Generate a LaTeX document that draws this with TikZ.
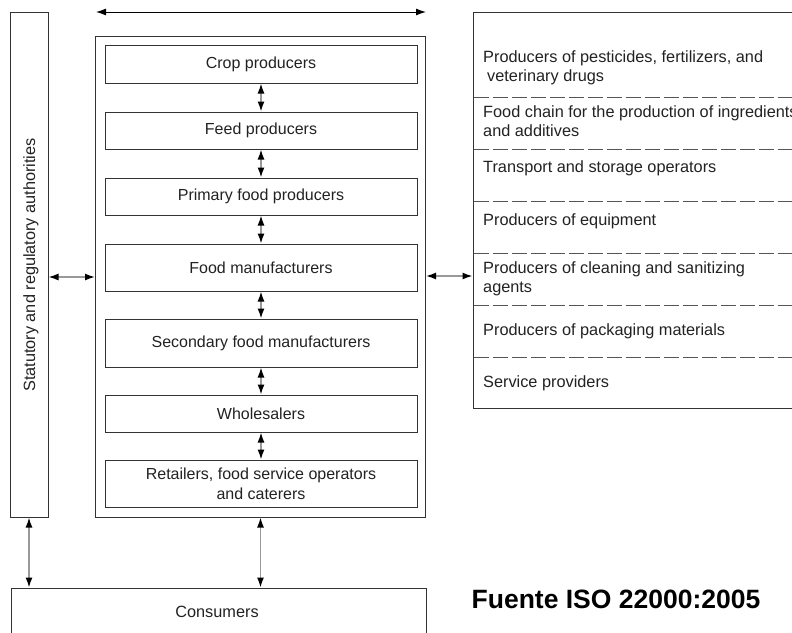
\documentclass[tikz,border=0pt]{standalone}
\usepackage{fontspec}
\setmainfont{Liberation Sans}
\usetikzlibrary{arrows.meta}
\definecolor{boxc}{HTML}{333333}
\definecolor{arrc}{HTML}{999999}
\definecolor{txt}{HTML}{222222}
\definecolor{dashc}{HTML}{555555}
\begin{document}
\begin{tikzpicture}[x=1pt,y=-1pt,
  box/.style={draw=boxc, line width=1pt, inner sep=0pt, align=center,
              font=\fontsize{16}{20}\selectfont, text=txt},
  lbl/.style={font=\fontsize{16.3}{19}\selectfont, text=txt, inner sep=0pt},
  dline/.style={draw=dashc, line width=1pt, dash pattern=on 15pt off 4pt},
  arr/.style={draw=arrc, line width=1.4pt,
              {Latex[length=10pt,width=7pt,fill=black,color=black]}-{Latex[length=10pt,width=7pt,fill=black,color=black]}}
]
\useasboundingbox (0,0) rectangle (792,632);
\clip (0,0) rectangle (792,632);

% outer chain box
\node[box, minimum width=330pt, minimum height=481pt] (chain) at (260.5,276.5) {};
% inner boxes
\node[box, minimum width=312pt, minimum height=38pt] (crop) at (261,64) {Crop producers};
\node[box, minimum width=312pt, minimum height=37pt] (feed) at (261,130.5) {Feed producers};
\node[box, minimum width=312pt, minimum height=37pt] (prim) at (261,196.5) {Primary food producers};
\node[box, minimum width=312pt, minimum height=47pt] (manu) at (261,267.5) {Food manufacturers};
\node[box, minimum width=312pt, minimum height=48pt] (sec) at (261,343) {Secondary food manufacturers};
\node[box, minimum width=312pt, minimum height=37pt] (whol) at (261,413.5) {Wholesalers};
\node[box, minimum width=312pt, minimum height=47pt] (ret) at (261,483.5) {Retailers, food service operators\\and caterers};

% left authorities box
\node[box, minimum width=38pt, minimum height=505pt] (auth) at (29,264.5) {};
\node[lbl, rotate=90] (authtxt) at (31,265) {Statutory and regulatory authorities};

% right box
\node[box, minimum width=330pt, minimum height=396pt] (rb) at (638,210) {};
\coordinate (d1a) at (473.5,97);  \coordinate (d1b) at (800,97);
\coordinate (d2a) at (473.5,149); \coordinate (d2b) at (800,149);
\coordinate (d3a) at (473.5,201); \coordinate (d3b) at (800,201);
\coordinate (d4a) at (473.5,253); \coordinate (d4b) at (800,253);
\coordinate (d5a) at (473.5,305); \coordinate (d5b) at (800,305);
\coordinate (d6a) at (473.5,357); \coordinate (d6b) at (800,357);
\draw[dline] (d1a) -- (d1b);
\draw[dline] (d2a) -- (d2b);
\draw[dline] (d3a) -- (d3b);
\draw[dline] (d4a) -- (d4b);
\draw[dline] (d5a) -- (d5b);
\draw[dline] (d6a) -- (d6b);

\node[lbl, anchor=base west] (r1a) at (483,62) {Producers of pesticides, fertilizers, and};
\node[lbl, anchor=base west] (r1b) at (487,81) {veterinary drugs};
\node[lbl, anchor=base west] (r2a) at (483,117) {Food chain for the production of ingredients};
\node[lbl, anchor=base west] (r2b) at (483,136) {and additives};
\node[lbl, anchor=base west] (r3) at (483,172) {Transport and storage operators};
\node[lbl, anchor=base west] (r4) at (483,225) {Producers of equipment};
\node[lbl, anchor=base west] (r5a) at (483,273) {Producers of cleaning and sanitizing};
\node[lbl, anchor=base west] (r5b) at (483,292) {agents};
\node[lbl, anchor=base west] (r6) at (483,335) {Producers of packaging materials};
\node[lbl, anchor=base west] (r7) at (483,387) {Service providers};

% consumers
\node[box, minimum width=415pt, minimum height=60pt] (cons) at (218.5,618) {};
\node[lbl] (constxt) at (217,612) {Consumers};

% source
\node[inner sep=0pt, font=\fontsize{26.5}{30}\selectfont\bfseries, text=black] (src) at (616,599) {Fuente ISO 22000:2005};

% top arrow
\coordinate (ta) at (96,12);
\coordinate (tb) at (426,12);
\draw[arr, draw=black, line width=1pt] (ta) -- (tb);

% vertical arrows in chain
\draw[arr] (crop.south) -- (feed.north);
\draw[arr] (feed.south) -- (prim.north);
\draw[arr] (prim.south) -- (manu.north);
\draw[arr] (manu.south) -- (sec.north);
\draw[arr] (sec.south) -- (whol.north);
\draw[arr] (whol.south) -- (ret.north);

% horizontal arrows
\draw[arr] (auth.east |- 0,277) -- (chain.west |- 0,277);
\draw[arr] (chain.east |- 0,276) -- (rb.west |- 0,276);

% to consumers
\draw[arr] (auth.south) -- (auth.south |- cons.north);
\draw[arr] (chain.south) -- (chain.south |- cons.north);
\end{tikzpicture}
\end{document}
